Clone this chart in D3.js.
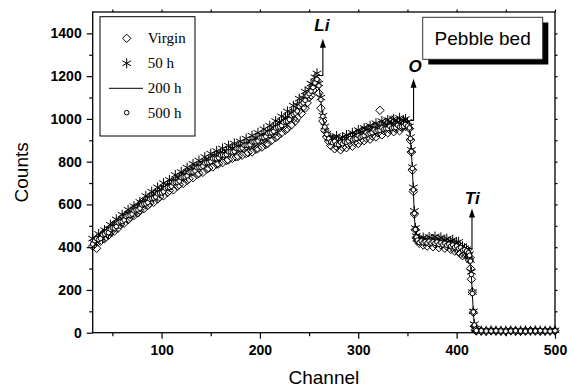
<!DOCTYPE html>
<html><head><meta charset="utf-8">
<script src="https://cdn.jsdelivr.net/npm/d3@7"></script>
<style>body{margin:0;background:#fff}svg{display:block}</style>
</head><body><svg id="c" width="575" height="387"></svg>
<script>
// ---- data ----
const channels = [
30,32,34,36,38,40,42,44,46,48,50,52,54,56,58,60,62,64,66,68,70,72,74,76,78,80,82,84,86,88,90,92,94,96,98,100,102,104,106,108,110,112,114,116,118,120,122,124,126,128,130,132,134,136,138,140,142,144,146,148,150,152,154,156,158,160,162,164,166,168,170,172,174,176,178,180,182,184,186,188,190,192,194,196,198,200,202,204,206,208,210,212,214,216,218,220,222,224,226,228,230,232,234,236,238,240,242,244,246,248,250,252,254,
256,258,260,262,264,266,268,270,
272,274,276,278,280,282,284,286,288,290,292,294,296,298,300,302,304,306,308,310,312,314,316,318,320,322,324,326,328,330,332,334,336,338,340,342,344,346,348,350,
352,353,354,355,356,357,358,359,360,
362,364,366,368,370,372,374,376,378,380,382,384,386,388,390,392,394,396,398,400,402,404,406,408,
410,412,413,414,415,416,417,418,419,420,
425,430,435,440,445,450,455,460,465,470,475,480,485,490,495,500];

const virgin = [
405,432,395,445,428,460,440,478,455,470,
500,475,512,490,505,538,512,550,528,540,
575,548,585,560,572,610,580,618,595,605,
640,610,650,625,635,670,640,682,655,665,
700,668,712,685,692,730,698,742,712,720,
758,725,772,740,745,785,750,795,765,770,
812,775,820,788,790,832,795,838,805,808,
852,815,850,822,825,862,830,860,838,842,
878,845,875,858,862,900,868,898,880,885,
925,900,930,912,920,958,935,965,948,955,
995,972,1000,990,1005,1040,1025,1055,1050,1075,
1100,1110,1135,
1160,1180,1120,1050,990,945,915,895,
875,905,860,870,900,855,868,905,865,880,918,872,890,930,885,900,945,898,910,955,
905,920,965,915,935,1040,925,945,985,935,950,995,940,955,985,945,960,990,965,975,
955,900,845,760,660,555,482,446,432,
418,430,410,425,405,420,428,402,415,422,398,410,418,395,405,412,390,400,382,395,378,370,360,365,
368,355,340,300,250,190,95,30,14,8,
8,7,9,8,8,7,9,8,7,8,9,8,7,8,8,9];

const h50 = [
440,418,428,462,450,441,480,470,462,505,
482,500,530,510,520,552,528,546,575,556,
560,592,565,590,612,590,610,640,615,630,
660,630,650,680,652,668,700,672,688,715,
690,705,738,710,722,752,726,742,772,745,
758,790,762,775,805,778,790,822,795,805,
838,810,822,850,822,835,862,834,846,875,
846,858,885,857,870,895,868,882,908,880,
895,922,893,910,935,906,925,952,922,942,
968,940,962,990,960,985,1012,982,1005,1035,
1003,1030,1062,1033,1065,1095,1068,1098,1128,1105,
1138,1165,1160,
1195,1213,1165,1100,1015,965,930,912,
912,905,890,920,895,888,915,898,925,905,912,935,910,930,948,920,940,958,932,952,
968,940,960,980,950,968,990,958,975,995,962,980,1000,965,985,1005,968,990,1000,985,
965,915,855,775,680,570,490,452,438,
440,432,445,428,436,448,426,438,450,424,435,446,420,432,440,416,428,435,408,420,425,400,405,395,
390,380,368,340,285,190,100,40,18,12,
10,9,11,10,9,10,11,9,10,10,9,11,10,9,10,11];

const h200 = [
428,418,435,431,452,447,462,459,478,474,
490,488,507,502,520,516,536,532,550,546,
563,559,576,572,590,588,603,600,618,614,
630,627,643,640,656,651,668,664,681,677,
693,690,705,701,718,714,730,727,742,739,
753,750,765,761,776,771,787,783,797,794,
808,804,817,812,825,820,833,828,841,836,
848,843,856,851,863,858,871,866,879,874,
887,882,895,891,905,901,915,911,925,922,
937,934,950,947,963,961,977,974,990,988,
1005,1005,1023,1025,1045,1048,1070,1073,1095,1098,
1120,1128,1155,
1172,1188,1150,1080,1005,955,922,903,
899,890,891,883,887,882,890,886,898,896,906,901,912,908,918,914,925,921,932,928,
938,934,945,941,951,946,956,951,960,954,962,956,965,959,968,962,970,964,972,966,
950,900,842,760,660,552,478,444,430,
430,423,427,420,426,419,424,417,422,415,419,412,417,409,414,406,411,401,406,396,400,390,392,381,
378,370,355,325,265,178,92,33,14,9,
8,7,9,8,7,8,9,7,8,8,7,9,8,7,8,8];

const h500 = [
415,430,440,436,441,458,462,470,468,484,
490,489,497,514,519,520,527,544,548,550,
555,570,574,575,582,598,602,603,609,625,
628,630,635,650,653,654,660,675,679,680,
685,700,703,704,709,725,728,729,734,749,
752,752,757,771,773,774,779,793,795,796,
800,814,815,814,818,830,831,830,833,846,
846,845,848,861,861,860,864,876,877,876,
879,892,893,893,897,911,913,913,918,932,
935,936,942,957,961,963,969,984,988,990,
997,1015,1021,1027,1037,1058,1068,1075,1087,1108,
1118,1130,1147,
1168,1185,1155,1090,1012,962,928,908,
893,889,895,881,880,890,884,893,891,897,908,902,906,909,921,915,919,922,935,929,
932,936,948,942,945,947,958,952,954,955,965,957,959,960,970,963,964,966,974,967,
958,908,848,768,668,558,483,447,433,
422,429,421,426,420,428,419,425,418,424,413,420,411,418,409,414,405,410,400,405,394,398,386,388,
382,374,362,335,272,183,97,36,16,10,
9,8,8,9,8,7,8,9,8,7,8,8,9,8,7,9];

const xTicks = [100,200,300,400,500];
const xMinor = [50,150,250,350,450];
const yTicks = [0,200,400,600,800,1000,1200,1400];
const yMinor = [100,300,500,700,900,1100,1300];
const legendLabels = ["Virgin","50 h","200 h","500 h"];
const boxLabel = "Pebble bed";
// annotation arrows in data units: connector from (x0,y0) to (x1,y0), shaft up to tip, label
const annotations = [
  {label:"Li", x0:258, y0:1203, x1:264, tip:1375, lx:263, ly:1411},
  {label:"O",  x0:352.8, y0:993, x1:356.2, tip:1188, lx:357.9, ly:1219},
  {label:"Ti", x0:410.5, y0:394, x1:415.6, tip:581, lx:415.9, ly:601}
];

// ---- layout ----
const svg = d3.select("#c");
const L = 92.7, R = 555, T = 12, B = 332.7;
const x = d3.scaleLinear().domain([30,500]).range([L,R]);
const y = d3.scaleLinear().domain([0,1500]).range([B,T]);
const SANS = "'Liberation Sans', Arial, sans-serif";
const SERIF = "'Liberation Serif', 'Times New Roman', serif";

function styleAxis(g){
  g.select(".domain").remove();
  g.selectAll("line").attr("stroke","#000").attr("stroke-width",1.2);
  g.selectAll("text").attr("font-family",SANS).attr("font-weight","bold").attr("font-size",14).attr("fill","#000");
}
svg.append("g").attr("transform",`translate(0,${B})`)
  .call(d3.axisBottom(x).tickValues(xTicks).tickSize(6).tickPadding(6).tickFormat(d3.format("d"))).call(styleAxis);
svg.append("g").attr("transform",`translate(0,${B})`)
  .call(d3.axisBottom(x).tickValues(xMinor).tickSize(3.5).tickFormat("")).call(styleAxis);
svg.append("g").attr("transform",`translate(${L},0)`)
  .call(d3.axisLeft(y).tickValues(yTicks).tickSize(6).tickPadding(5).tickFormat(d3.format("d"))).call(styleAxis);
svg.append("g").attr("transform",`translate(${L},0)`)
  .call(d3.axisLeft(y).tickValues(yMinor).tickSize(3.5).tickFormat("")).call(styleAxis);
svg.append("g").attr("transform",`translate(0,${T})`)
  .call(d3.axisTop(x).tickValues(xTicks.concat(xMinor)).tickSize(2.5).tickFormat("")).call(styleAxis);
svg.append("g").attr("transform",`translate(${R},0)`)
  .call(d3.axisRight(y).tickValues(yTicks.filter(d=>d>0).concat(yMinor)).tickSize(2.5).tickFormat("")).call(styleAxis);
svg.append("rect").attr("x",L).attr("y",T).attr("width",R-L).attr("height",B-T)
  .attr("fill","none").attr("stroke","#000").attr("stroke-width",1.3);

svg.append("text").attr("x",(L+R)/2).attr("y",384).attr("text-anchor","middle")
  .attr("font-family",SANS).attr("font-size",19).text("Channel");
svg.append("text").attr("transform",`translate(28,${(T+B)/2}) rotate(-90)`).attr("text-anchor","middle")
  .attr("font-family",SANS).attr("font-size",19).text("Counts");

// ---- marks ----
const plot = svg.append("g");
const pts = (arr)=>channels.map((c,i)=>[c,arr[i]]).filter(d=>d[1]!==undefined);
const diamond = "M0,-4.2L4.2,0L0,4.2L-4.2,0Z";
const star = "M0,-5L0,5M-4.33,-2.5L4.33,2.5M-4.33,2.5L4.33,-2.5";

plot.selectAll("path.v").data(pts(virgin)).join("path").attr("class","v")
  .attr("transform",d=>`translate(${x(d[0])},${y(d[1])})`).attr("d",diamond)
  .attr("fill","none").attr("stroke","#000").attr("stroke-width",1);
plot.selectAll("path.s").data(pts(h50)).join("path").attr("class","s")
  .attr("transform",d=>`translate(${x(d[0])},${y(d[1])})`).attr("d",star)
  .attr("fill","none").attr("stroke","#000").attr("stroke-width",1);
plot.append("path").datum(pts(h200))
  .attr("d",d3.line().x(d=>x(d[0])).y(d=>y(d[1])))
  .attr("fill","none").attr("stroke","#000").attr("stroke-width",1);
plot.selectAll("circle.c").data(pts(h500)).join("circle").attr("class","c")
  .attr("cx",d=>x(d[0])).attr("cy",d=>y(d[1])).attr("r",2.3)
  .attr("fill","#fff").attr("stroke","#000").attr("stroke-width",1);

// ---- annotations ----
annotations.forEach(a=>{
  const g = svg.append("g");
  g.append("path").attr("d",`M${x(a.x0)},${y(a.y0)}L${x(a.x1)},${y(a.y0)}L${x(a.x1)},${y(a.tip)+7}`)
    .attr("fill","none").attr("stroke","#000").attr("stroke-width",1.1);
  const tx = x(a.x1), ty = y(a.tip);
  g.append("path").attr("d",`M${tx},${ty}L${tx-3},${ty+9}L${tx+3},${ty+9}Z`).attr("fill","#000");
  g.append("text").attr("x",x(a.lx)).attr("y",y(a.ly)).attr("text-anchor","middle")
    .attr("font-family",SANS).attr("font-weight","bold").attr("font-style","italic")
    .attr("font-size",17).text(a.label);
});

// ---- legend ----
const lg = svg.append("g");
lg.append("rect").attr("x",100).attr("y",16.7).attr("width",95).attr("height",119.3)
  .attr("fill","#fff").attr("stroke","#000").attr("stroke-width",1);
const rowY = [38.3,63.3,88.3,112.7];
legendLabels.forEach((lab,i)=>{
  const yy = rowY[i], sx = 126.7;
  if(i===0) lg.append("path").attr("transform",`translate(${sx},${yy})`).attr("d",diamond).attr("fill","none").attr("stroke","#000");
  if(i===1) lg.append("path").attr("transform",`translate(${sx},${yy})`).attr("d",star).attr("fill","none").attr("stroke","#000");
  if(i===2) lg.append("line").attr("x1",109).attr("x2",143).attr("y1",yy).attr("y2",yy).attr("stroke","#000").attr("stroke-width",1);
  if(i===3) lg.append("circle").attr("cx",sx).attr("cy",yy).attr("r",2.3).attr("fill","#fff").attr("stroke","#000");
  lg.append("text").attr("x",147.7).attr("y",yy+5).attr("font-family",SERIF).attr("font-size",15).text(lab);
});

// ---- Pebble bed box ----
const pb = svg.append("g");
pb.append("rect").attr("x",428.3).attr("y",22.5).attr("width",120).attr("height",42).attr("fill","#000");
pb.append("rect").attr("x",422.7).attr("y",17.3).attr("width",120).attr("height",42)
  .attr("fill","#fff").attr("stroke","#333").attr("stroke-width",1);
pb.append("text").attr("x",482.7).attr("y",44.5).attr("text-anchor","middle")
  .attr("font-family",SANS).attr("font-size",19).text(boxLabel);
</script>
</body></html>
